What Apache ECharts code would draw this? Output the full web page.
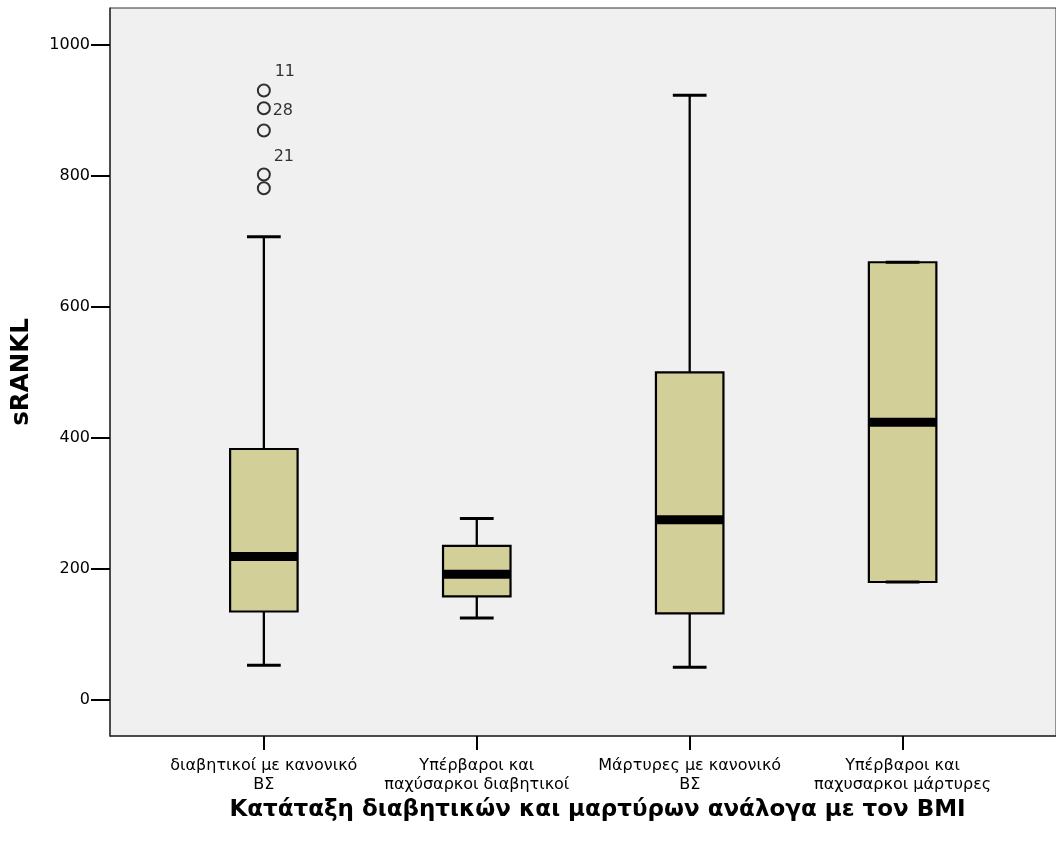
<!DOCTYPE html>
<html>
<head>
<meta charset="utf-8">
<script src="https://cdn.jsdelivr.net/npm/echarts@6/dist/echarts.min.js"></script>
<style>
html,body{margin:0;padding:0;background:#fff;}
#chart{width:1056px;height:848px;}
</style>
</head>
<body>
<div id="chart"></div>
<script>
// ---- data ----
const categories = [
  'διαβητικοί με κανονικό\nΒΣ',
  'Υπέρβαροι και\nπαχύσαρκοι διαβητικοί',
  'Μάρτυρες με κανονικό\nΒΣ',
  'Υπέρβαροι και\nπαχυσαρκοι μάρτυρες'
];
const whiskerLow  = [53, 125, 50, 180];
const quartile1   = [135, 158, 132, 180];
const medians     = [219, 192, 275, 424];
const quartile3   = [383, 235, 500, 668];
const whiskerHigh = [707, 277, 923, 668];
const outlierGroup  = [0, 0, 0, 0, 0];
const outlierValues = [930, 903, 869, 802, 781];
const outlierLabels = ['11', '28', '', '21', ''];
const yTicks = [0, 200, 400, 600, 800, 1000];
const xTicks = [0, 1, 2, 3];
const xAxisTitle = 'Κατάταξη διαβητικών και μαρτύρων ανάλογα με τον BMI';
const yAxisTitle = 'sRANKL';

// ---- build ----
const boxData = categories.map((c, i) => [i, whiskerLow[i], quartile1[i], medians[i], quartile3[i], whiskerHigh[i]]);
const labelOffsets = {'11': [21, -19], '28': [19, 3], '21': [20, -18]};
const outlierData = outlierValues.map((v, i) => {
  const lab = outlierLabels[i];
  const item = {value: [outlierGroup[i], v]};
  if (lab) {
    item.label = {show: true, formatter: lab, position: 'inside', offset: labelOffsets[lab]};
  }
  return item;
});

const FONT = '"DejaVu Sans", sans-serif';
const BOX_W = 0.317;

const chart = echarts.init(document.getElementById('chart'), null, {renderer: 'canvas'});
chart.setOption({
  backgroundColor: '#ffffff',
  animation: false,
  grid: {
    left: 110, top: 8, width: 953, bottom: 112,
    show: true, backgroundColor: '#F0F0F0', borderColor: '#333', borderWidth: 1
  },
  xAxis: {
    type: 'value', min: -0.7226, max: 3.7204,
    splitLine: {show: false},
    axisLine: {show: true, onZero: false, lineStyle: {color: '#333', width: 1.5}},
    axisTick: {show: true, customValues: xTicks, length: 14, lineStyle: {color: '#000', width: 2}},
    axisLabel: {
      customValues: xTicks, margin: 20, fontSize: 16, lineHeight: 19, color: '#000', fontFamily: FONT,
      formatter: v => categories[Math.round(v)] || ''
    },
    name: xAxisTitle, nameLocation: 'middle', nameGap: 59,
    nameTextStyle: {fontSize: 23, fontWeight: 'bold', color: '#000', fontFamily: FONT, padding: [0, 0, 0, 29]}
  },
  yAxis: {
    type: 'value', min: -55, max: 1056,
    splitLine: {show: false},
    axisLine: {show: true, onZero: false, lineStyle: {color: '#333', width: 1.5}},
    axisTick: {show: true, customValues: yTicks, length: 19, lineStyle: {color: '#000', width: 2}},
    axisLabel: {customValues: yTicks, margin: 20, fontSize: 16, color: '#000', fontFamily: FONT,
      formatter: v => String(v)},
    name: yAxisTitle, nameLocation: 'middle', nameGap: 76, nameRotate: 90,
    nameTextStyle: {fontSize: 24.5, fontWeight: 'bold', color: '#000', fontFamily: FONT}
  },
  series: [
    {
      type: 'custom',
      data: boxData,
      encode: {x: 0, y: [1, 2, 3, 4, 5]},
      renderItem: function (params, api) {
        const x = api.value(0);
        const pLow = api.coord([x, api.value(1)]);
        const pQ1 = api.coord([x, api.value(2)]);
        const pMed = api.coord([x, api.value(3)]);
        const pQ3 = api.coord([x, api.value(4)]);
        const pHigh = api.coord([x, api.value(5)]);
        const w = api.size([BOX_W, 0])[0];
        const cx = pMed[0];
        const lineStyle = {stroke: '#000', lineWidth: 2.3};
        const capStyle = {stroke: '#000', lineWidth: 3};
        return {
          type: 'group',
          children: [
            {type: 'line', shape: {x1: cx, y1: pHigh[1], x2: cx, y2: pQ3[1]}, style: lineStyle},
            {type: 'line', shape: {x1: cx, y1: pQ1[1], x2: cx, y2: pLow[1]}, style: lineStyle},
            {type: 'rect', shape: {x: cx - w / 2, y: pQ3[1], width: w, height: pQ1[1] - pQ3[1]},
              style: {fill: '#D3CF98', stroke: '#000', lineWidth: 2.2}},
            {type: 'rect', shape: {x: cx - w / 2, y: pMed[1] - 4.5, width: w, height: 9},
              style: {fill: '#000'}},
            {type: 'line', shape: {x1: cx - w / 4, y1: pHigh[1], x2: cx + w / 4, y2: pHigh[1]}, style: capStyle},
            {type: 'line', shape: {x1: cx - w / 4, y1: pLow[1], x2: cx + w / 4, y2: pLow[1]}, style: capStyle}
          ]
        };
      },
      z: 2
    },
    {
      type: 'scatter',
      data: outlierData,
      symbol: 'circle',
      symbolSize: 12,
      itemStyle: {color: 'rgba(0,0,0,0)', borderColor: '#000', borderWidth: 2},
      label: {show: false, color: '#000', fontSize: 16, fontFamily: FONT},
      z: 3
    }
  ]
});
</script>
</body>
</html>
